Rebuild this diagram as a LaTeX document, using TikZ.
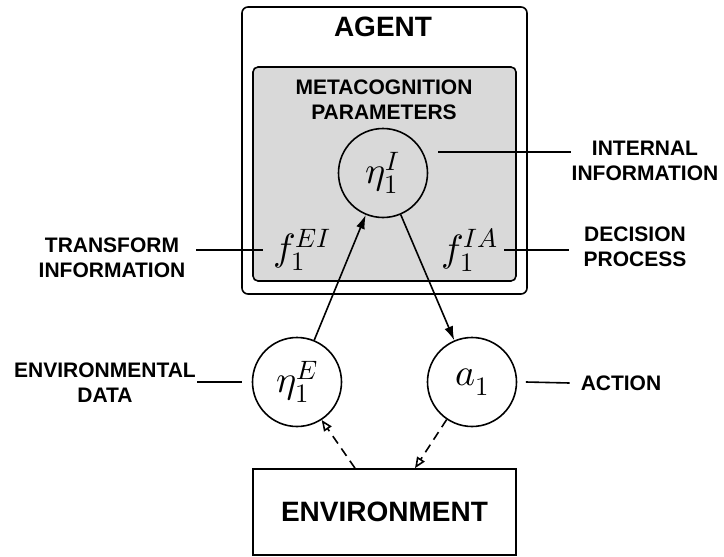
\documentclass[tikz,border=0pt]{standalone}
\usepackage{fontspec}
\usepackage{unicode-math}
\setmainfont{Liberation Sans}
\setmathfont{Latin Modern Math}
\usetikzlibrary{arrows.meta}

\begin{document}
\begin{tikzpicture}[x=1pt, y=-1pt,
  tag/.style={font=\fontsize{21}{25}\selectfont\bfseries, align=center, inner sep=0pt},
  title/.style={font=\fontsize{28}{28}\selectfont\bfseries, inner sep=0pt},
  state/.style={shape=circle, draw=black, line width=1.6pt, minimum size=89pt, inner sep=0pt, font=\fontsize{38}{38}\selectfont},
  func/.style={inner sep=0pt, font=\fontsize{38}{38}\selectfont},
  pointer/.style={-, line width=1.6pt},
  flow/.style={-{Latex[length=14pt,width=9pt]}, line width=1.6pt},
  feedback/.style={-{Triangle[open,length=11pt,width=9pt]}, line width=1.6pt, dash pattern=on 9pt off 6pt}]
\useasboundingbox (0,0) rectangle (724,557);
% agent with its metacognition block
\node[draw=black, line width=1.6pt, rounded corners=6pt, minimum width=285pt, minimum height=287pt] (agent) at (384.5,150.5) {};
\node[draw=black, fill=gray!30, line width=1.6pt, rounded corners=5pt, minimum width=263pt, minimum height=214pt] (meta) at (384.5,174) {};
\node[title] (agentname) at (383,27) {AGENT};
\node[tag] (metaname) at (384,100) {METACOGNITION\\PARAMETERS};
\node[state] (etaI) at (383,173) {$\eta_1^I$};
\node[func] (fEI) at (302,250) {$f_1^{EI}$};
\node[func] (fIA) at (470,250) {$f_1^{IA}$};
% outside the agent
\node[state] (etaE) at (297,382) {$\eta_1^E$};
\node[state] (a1) at (472,382) {$a_1$};
\node[draw=black, line width=1.6pt, minimum width=263pt, minimum height=86pt, title] (env) at (384.5,512) {ENVIRONMENT};
% side labels
\node[tag] (transform) at (112,258) {TRANSFORM\\INFORMATION};
\node[tag] (internal) at (645,161) {INTERNAL\\INFORMATION};
\node[tag] (decision) at (635,247) {DECISION\\PROCESS};
\node[tag] (envdata) at (105,383) {ENVIRONMENTAL\\DATA};
\node[tag] (action) at (621,383) {ACTION};
\path[pointer] ([xshift=11pt,yshift=8pt]transform.east) edge ([xshift=-10pt]fEI.west);
\path[pointer] ([xshift=10pt,yshift=21pt]etaI.east) edge ([xshift=-1pt,yshift=9pt]internal.west);
\path[pointer] ([xshift=6pt]fIA.east) edge ([xshift=-14pt,yshift=-3pt]decision.west);
\path[pointer] ([xshift=1pt,yshift=1pt]envdata.east) edge ([xshift=-10pt]etaE.west);
\path[pointer] ([xshift=8.5pt]a1.east) edge ([xshift=-11pt]action.west);
% information flow
\path[flow] (etaE) edge (etaI);
\path[flow] (etaI) edge (a1);
\path[feedback] ([xshift=-29.5pt]env.north) edge (etaE.-57);
\path[feedback] (a1.-124) edge ([xshift=30.5pt]env.north);
\end{tikzpicture}
\end{document}
